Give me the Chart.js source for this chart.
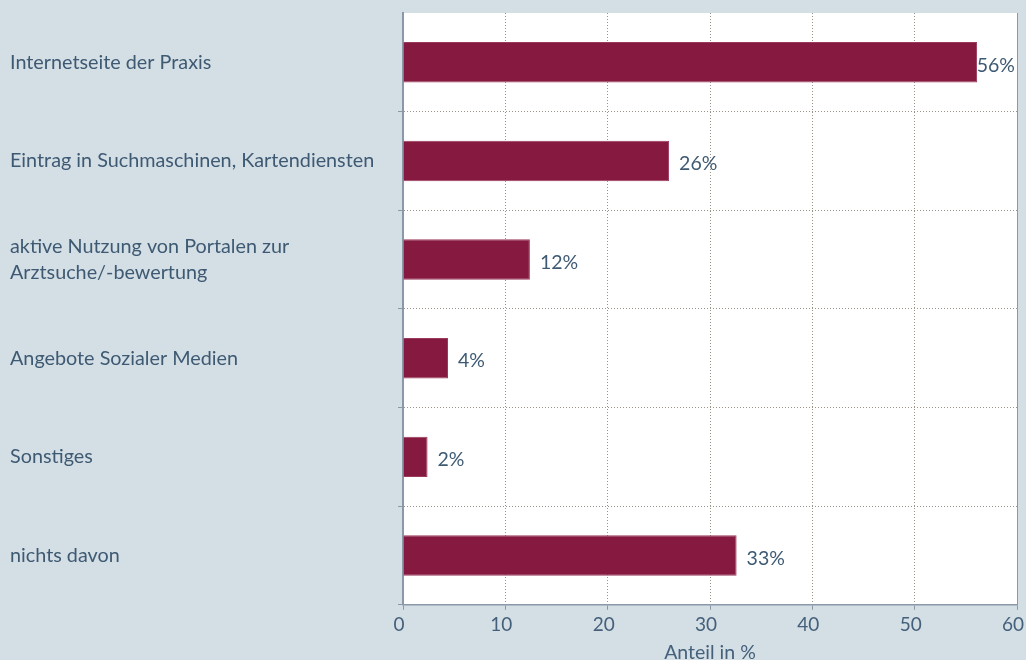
<!DOCTYPE html>
<html>
<head>
<meta charset="utf-8">
<script src="https://cdn.jsdelivr.net/npm/chart.js@4/dist/chart.umd.min.js"></script>
<style>
  html, body { margin: 0; padding: 0; background: #d4dee5; }
  #wrap { width: 1026px; height: 660px; }
</style>
</head>
<body>
<div id="wrap"><canvas id="chart" width="1026" height="660"></canvas></div>
<script>
// categories, top to bottom
const categories = [
    'Internetseite der Praxis',
    'Eintrag in Suchmaschinen, Kartendiensten',
    ['aktive Nutzung von Portalen zur', 'Arztsuche/-bewertung'],
    'Angebote Sozialer Medien',
    'Sonstiges',
    'nichts davon'
];
const shares = [56.1, 26.0, 12.4, 4.4, 2.4, 32.6];
const xTicks = [0, 10, 20, 30, 40, 50, 60];

const textColor = '#3e5a73';
const axisGrey = '#8a98a7';
const dotColor = '#9b9288';

// white plot area
const plotBg = {
    id: 'plotBg',
    beforeDraw(chart) {
        const { ctx, chartArea: a } = chart;
        ctx.save();
        ctx.fillStyle = '#ffffff';
        ctx.fillRect(a.left, a.top, a.right - a.left, a.bottom - a.top);
        ctx.restore();
    }
};

// value labels at bar ends (kept inside the plot)
const barLabels = {
    id: 'barLabels',
    afterDatasetsDraw(chart) {
        const { ctx, chartArea } = chart;
        const meta = chart.getDatasetMeta(0);
        ctx.save();
        ctx.font = '19.5px Lato';
        ctx.fillStyle = textColor;
        ctx.textAlign = 'left';
        ctx.textBaseline = 'middle';
        meta.data.forEach((bar, i) => {
            const txt = Math.round(shares[i]) + '%';
            const w = ctx.measureText(txt).width;
            const x = Math.min(bar.x + 10, chartArea.right - w - 2);
            ctx.fillText(txt, x, bar.y + 3);
        });
        ctx.restore();
    }
};

new Chart(document.getElementById('chart'), {
    type: 'bar',
    data: {
        labels: categories,
        datasets: [{
            data: shares,
            backgroundColor: '#86193f',
            borderColor: '#9a3a5c',
            borderWidth: 1,
            barPercentage: 0.41,
            categoryPercentage: 1
        }]
    },
    options: {
        indexAxis: 'y',
        responsive: false,
        animation: false,
        layout: { padding: { top: 13, right: 0, left: 10, bottom: -4 } },
        plugins: {
            legend: { display: false },
            tooltip: { enabled: false }
        },
        scales: {
            x: {
                min: 0,
                max: 60,
                afterBuildTicks: axis => { axis.ticks = xTicks.map(v => ({ value: v })); },
                afterFit: axis => { axis.paddingRight = 9; },
                ticks: {
                    color: '#44607a',
                    font: { family: 'Lato', size: 19 },
                    padding: 4,
                    labelOffset: -4
                },
                grid: {
                    color: c => c.index === 0 ? 'rgba(0,0,0,0)' : (c.index === 6 ? axisGrey : dotColor),
                    tickColor: axisGrey,
                    tickLength: 5
                },
                border: {
                    color: axisGrey,
                    width: 1.5,
                    dash: c => c.index === 6 ? [] : [1, 2]
                },
                title: {
                    display: true,
                    text: 'Anteil in %',
                    color: '#44607a',
                    font: { family: 'Lato', size: 19.5 },
                    padding: { top: 0, bottom: 0 }
                }
            },
            y: {
                afterFit: axis => {
                    axis.width = 393;
                    axis.paddingTop = 0;
                    axis.paddingBottom = 0;
                },
                ticks: {
                    crossAlign: 'far',
                    color: textColor,
                    font: { family: 'Lato', size: 19.8, lineHeight: 1.35 },
                    padding: 6
                },
                grid: {
                    offset: true,
                    color: c => c.index === 0 ? 'rgba(0,0,0,0)' : dotColor,
                    tickColor: c => c.index === 0 ? 'rgba(0,0,0,0)' : axisGrey,
                    tickLength: 5
                },
                border: {
                    color: axisGrey,
                    width: 2,
                    dash: [1, 2]
                }
            }
        }
    },
    plugins: [plotBg, barLabels]
});
</script>
</body>
</html>
